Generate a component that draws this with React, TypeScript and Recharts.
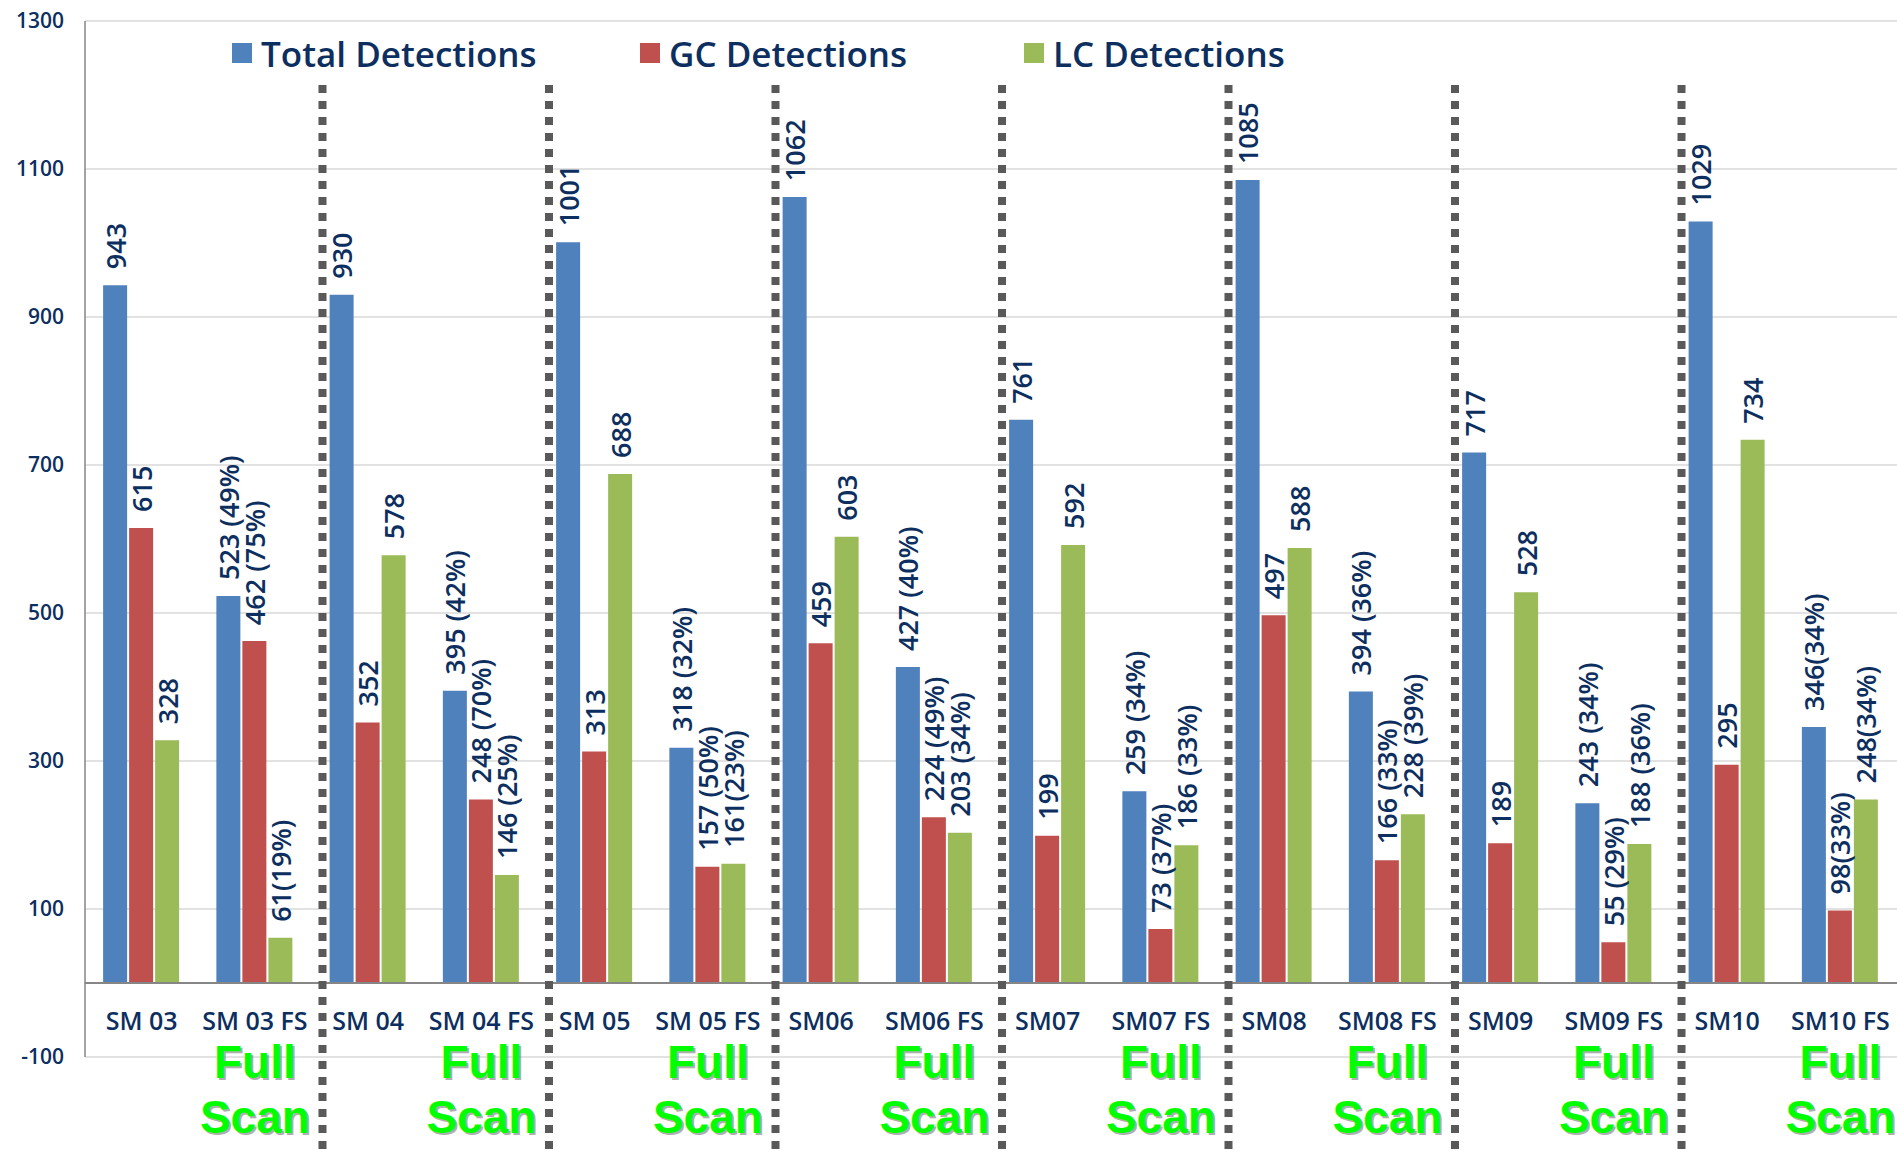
import React from "react";
import {
    BarChart,
    Bar,
    XAxis,
    YAxis,
    CartesianGrid,
    ReferenceLine,
    LabelList,
    Legend
} from "recharts";

const categories = [
    "SM 03", "SM 03 FS", "SM 04", "SM 04 FS", "SM 05", "SM 05 FS", "SM06", "SM06 FS",
    "SM07", "SM07 FS", "SM08", "SM08 FS", "SM09", "SM09 FS", "SM10", "SM10 FS",
];

const totalValues = [943, 523, 930, 395, 1001, 318, 1062, 427, 761, 259, 1085, 394, 717, 243, 1029, 346];
const gcValues = [615, 462, 352, 248, 313, 157, 459, 224, 199, 73, 497, 166, 189, 55, 295, 98];
const lcValues = [328, 61, 578, 146, 688, 161, 603, 203, 592, 186, 588, 228, 528, 188, 734, 248];

const totalLabels = [
    "943", "523 (49%)", "930", "395 (42%)", "1001", "318 (32%)", "1062", "427 (40%)",
    "761", "259 (34%)", "1085", "394 (36%)", "717", "243 (34%)", "1029", "346(34%)",
];
const gcLabels = [
    "615", "462 (75%)", "352", "248 (70%)", "313", "157 (50%)", "459", "224 (49%)",
    "199", "73 (37%)", "497", "166 (33%)", "189", "55 (29%)", "295", "98(33%)",
];
const lcLabels = [
    "328", "61(19%)", "578", "146 (25%)", "688", "161(23%)", "603", "203 (34%)",
    "592", "186 (33%)", "588", "228 (39%)", "528", "188 (36%)", "734", "248(34%)",
];

// a dotted divider sits before each new sample
const dividers = ["SM 04", "SM 05", "SM06", "SM07", "SM08", "SM09", "SM10"];

const yTicks = [-100, 100, 300, 500, 700, 900, 1100, 1300];

const NAVY = "#0D2F5F";
const FONT = "'Open Sans', 'DejaVu Sans', sans-serif";

const SERIES = [
    { key: "total", name: "Total Detections", color: "#4F81BD", labels: totalLabels },
    { key: "gc", name: "GC Detections", color: "#C0504D", labels: gcLabels },
    { key: "lc", name: "LC Detections", color: "#9BBB59", labels: lcLabels },
];

const chartData = categories.map((name, i) => ({
    name,
    total: totalValues[i],
    gc: gcValues[i],
    lc: lcValues[i],
}));

const makeLabel = (labels: string[]) => (props: any) => {
    const { x, y, width, index } = props;
    const cx = Number(x) + Number(width) / 2;
    const ty = Number(y) - 16;
    return (
        <text
            x={cx}
            y={ty}
            transform={`rotate(-90, ${cx}, ${ty})`}
            textAnchor="start"
            dominantBaseline="central"
            fill={NAVY}
            fontSize={27}
            fontWeight={600}
            fontFamily={FONT}
        >
            {labels[index]}
        </text>
    );
};

const CategoryTick = (props: any) => {
    const { x, y, payload } = props;
    const isScan = String(payload.value).endsWith("FS");
    return (
        <g>
            <text x={x} y={y - 27} textAnchor="middle" fill={NAVY} fontSize={25} fontWeight={600} fontFamily={FONT}>
                {payload.value}
            </text>
            {isScan && (
                <g fontFamily="'Liberation Sans', Arial, sans-serif" fontWeight={700} fontSize={46} textAnchor="middle">
                    <text x={x + 2} y={y + 23} fill="#8c8c8c" opacity={0.7}>Full</text>
                    <text x={x + 2} y={y + 78} fill="#8c8c8c" opacity={0.7}>Scan</text>
                    <text x={x} y={y + 21} fill="#00FF00">Full</text>
                    <text x={x} y={y + 76} fill="#00FF00">Scan</text>
                </g>
            )}
        </g>
    );
};

const Divider = (props: any) => {
    const top = Math.min(Number(props.y1), Number(props.y2));
    const bottom = Math.max(Number(props.y1), Number(props.y2));
    const x = Number(props.x1) + 11;
    return (
        <line x1={x} x2={x} y1={top + 64} y2={bottom + 94} stroke="#595959" strokeWidth={8} strokeDasharray="8 8" />
    );
};

const LEGEND_LEFT = [232, 640, 1024];

const renderLegend = () => (
    <div style={{ position: "relative", width: 1897, height: 48 }}>
        {SERIES.map((s, i) => (
            <div
                key={s.key}
                style={{
                    position: "absolute",
                    left: LEGEND_LEFT[i],
                    top: 0,
                    display: "flex",
                    alignItems: "center",
                    height: 48,
                    whiteSpace: "nowrap",
                }}
            >
                <span style={{ width: 20, height: 20, background: s.color, display: "inline-block", marginRight: 9 }} />
                <span style={{ color: NAVY, fontSize: 35, fontWeight: 600, fontFamily: FONT }}>{s.name}</span>
            </div>
        ))}
    </div>
);

export default function App() {
    return (
        <div style={{ position: "absolute", left: 0, top: 0, width: 1897, height: 1151, background: "#fff" }}>
            <BarChart
                width={1897}
                height={1151}
                data={chartData}
                margin={{ top: 21, right: 0, bottom: 0, left: 0 }}
                barCategoryGap="16%"
                barGap={2}
            >
                <CartesianGrid vertical={false} stroke="#d9d9d9" strokeWidth={1.5} />
                <XAxis
                    dataKey="name"
                    height={94}
                    interval={0}
                    axisLine={false}
                    tickLine={false}
                    tickSize={0}
                    tickMargin={0}
                    tick={<CategoryTick />}
                />
                <YAxis
                    width={85}
                    domain={[-100, 1300]}
                    ticks={yTicks}
                    interval={0}
                    axisLine={{ stroke: "#868686", strokeWidth: 1.5 }}
                    tickLine={false}
                    tickSize={6}
                    tickMargin={15}
                    tick={{ fill: NAVY, fontSize: 21, fontWeight: 600, fontFamily: FONT }}
                />
                <Legend
                    layout="horizontal"
                    verticalAlign="middle"
                    align="center"
                    wrapperStyle={{ top: 29, left: 0, width: 1897 }}
                    content={renderLegend}
                />
                {SERIES.map((s) => (
                    <Bar key={s.key} dataKey={s.key} name={s.name} fill={s.color} isAnimationActive={false}>
                        <LabelList dataKey={s.key} content={makeLabel(s.labels)} />
                    </Bar>
                ))}
                <ReferenceLine y={0} stroke="#868686" strokeWidth={2} />
                {dividers.map((d) => (
                    <ReferenceLine key={d} x={d} position="start" shape={<Divider />} />
                ))}
            </BarChart>
        </div>
    );
}
